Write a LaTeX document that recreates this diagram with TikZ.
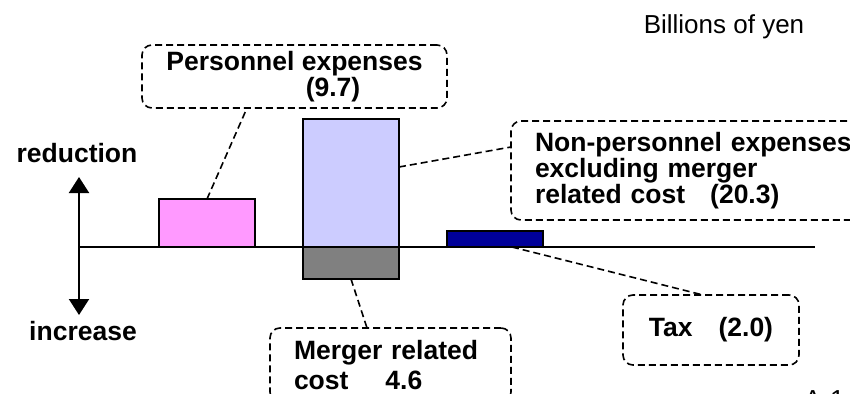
\documentclass[tikz,border=0pt]{standalone}
\usepackage{fontspec}
\setmainfont{Liberation Sans}
\usepackage{tikz}
\usetikzlibrary{shapes}
\usetikzlibrary{arrows.meta}
\usetikzlibrary{positioning}
\definecolor{persfill}{HTML}{FF99FF}
\definecolor{nonpersfill}{HTML}{CCCCFF}
\definecolor{mergefill}{HTML}{808080}
\definecolor{taxfill}{HTML}{000099}

\begin{document}
\begin{tikzpicture}[x=1pt,y=-1pt]
			\tikzset{bar/.style = {shape=rectangle,draw,line width=1.5pt,
					outer sep=0pt, inner sep=0pt, anchor=south west}}
			\tikzset{callout/.style = {shape=rectangle,draw,rounded corners=10pt,
					line width=1.6pt, dash pattern=on 7pt off 4pt,
					outer sep=0pt, anchor=north west,
					font=\fontsize{26.5}{24}\selectfont\bfseries}}
			\tikzset{leader/.style = {line width=1.6pt, dash pattern=on 7pt off 4pt}}
			\tikzset{axisarrow/.style = {{Triangle[length=16pt,width=20pt]}-{Triangle[length=16pt,width=20pt]}, line width=2pt}}
			\tikzset{label/.style = {font=\fontsize{26.5}{26}\selectfont\bfseries, inner sep=0pt}}
			
			\useasboundingbox (0,0) rectangle (850,393);
			\clip (0,0) rectangle (850,393);
			
			% bars
			\node[bar, fill=persfill, minimum width=96pt, minimum height=48pt] (pers) at (159,247) {};
			\node[bar, fill=nonpersfill, minimum width=96pt, minimum height=128pt] (nonpers) at (303,247) {};
			\node[bar, fill=mergefill, minimum width=96pt, minimum height=32pt, anchor=north west] (merge) at (303,247) {};
			\node[bar, fill=taxfill, minimum width=96pt, minimum height=16pt] (tax) at (447,247) {};
			
			% axis
			\coordinate (origin) at (79,247);
			\coordinate (axisend) at (815,247);
			\coordinate (uptip) at (79,177);
			\coordinate (downtip) at (79,315);
			\draw[line width=1.5pt] (origin) -- (axisend);
			\draw[axisarrow] (uptip) -- (downtip);
			\node[label] (reduction) at (77,153) {reduction};
			\node[label] (increase) at (83,331) {increase};
			\node[font=\fontsize{26}{26}\selectfont, inner sep=0pt] (unit) at (724,27) {Billions of yen};
			\node[font=\fontsize{26}{26}\selectfont, inner sep=0pt, anchor=base west] (page) at (804,408) {A-1};
			
			% callouts
			\node[callout, minimum width=305pt, minimum height=63pt, align=center,
				font=\fontsize{26.5}{26}\selectfont\bfseries] (persbox) at (142,45)
				{Personnel expenses\\\hspace*{77pt}(9.7)};
			\node[callout, minimum height=99pt, inner xsep=24pt, text width=320pt, align=left] (nonpersbox) at (511,121)
				{Non-personnel expenses\\excluding merger\\related cost\hspace{25pt}(20.3)};
			\node[callout, minimum width=241pt, minimum height=74pt, inner xsep=24pt, text width=193pt, align=left,
				font=\fontsize{26.5}{30}\selectfont\bfseries] (mergebox) at (270,328)
				{Merger related\\cost\hspace{37pt}4.6};
			\node[callout, minimum width=176pt, minimum height=70pt] (taxbox) at (623,295)
				{Tax\hspace{26pt}(2.0)};
			
			%leaders
			\draw[leader] (pers.north) -- ([xshift=105pt]persbox.south west);
			\draw[leader] ([yshift=16pt]nonpers.east) -- ([yshift=23.5pt]nonpersbox.west);
			\draw[leader] (merge.south) -- ([xshift=97pt]mergebox.north west);
			\draw[leader] ([xshift=17pt]tax.south) -- ([xshift=-8pt]taxbox.north);
			
\end{tikzpicture}
\end{document}
